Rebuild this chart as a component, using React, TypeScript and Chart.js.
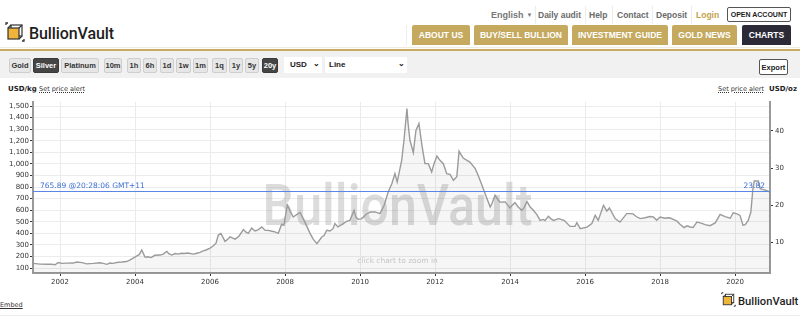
import React, { useEffect, useRef } from "react";
import { Chart, registerables } from "chart.js";

Chart.register(...registerables);

// ---------------- data ----------------
const years: number[] = [
  2001.29, 2001.47, 2001.65, 2001.76, 2001.87, 2001.95, 2002.05, 2002.18, 2002.35, 2002.45,
  2002.59, 2002.71, 2002.89, 2003.07, 2003.15, 2003.25, 2003.33, 2003.41, 2003.55, 2003.65,
  2003.78, 2003.87, 2003.95, 2004.05, 2004.11, 2004.18, 2004.27, 2004.35, 2004.43, 2004.53,
  2004.67, 2004.75, 2004.85, 2004.91, 2004.98, 2005.07, 2005.15, 2005.23, 2005.31, 2005.41,
  2005.55, 2005.65, 2005.73, 2005.82, 2005.91, 2006.0, 2006.09, 2006.16, 2006.22, 2006.29,
  2006.4, 2006.48, 2006.53, 2006.67, 2006.77, 2006.89, 2006.96, 2007.02, 2007.11, 2007.2,
  2007.28, 2007.38, 2007.47, 2007.55, 2007.65, 2007.73, 2007.82, 2007.91, 2007.97, 2008.06,
  2008.14, 2008.22, 2008.3, 2008.4, 2008.53, 2008.67, 2008.75, 2008.85, 2008.98, 2009.04,
  2009.11, 2009.2, 2009.28, 2009.33, 2009.41, 2009.49, 2009.55, 2009.65, 2009.73, 2009.84,
  2009.89, 2009.95, 2010.03, 2010.09, 2010.16, 2010.27, 2010.4, 2010.53, 2010.64, 2010.75,
  2010.85, 2010.93, 2010.99, 2011.11, 2011.17, 2011.25, 2011.28, 2011.33, 2011.42, 2011.49,
  2011.57, 2011.65, 2011.73, 2011.82, 2011.91, 2011.97, 2012.05, 2012.13, 2012.22, 2012.31,
  2012.4, 2012.49, 2012.58, 2012.64, 2012.75, 2012.85, 2012.93, 2013.07, 2013.15, 2013.25,
  2013.36, 2013.47, 2013.52, 2013.6, 2013.68, 2013.73, 2013.87, 2014.0, 2014.05, 2014.13,
  2014.21, 2014.31, 2014.37, 2014.45, 2014.53, 2014.62, 2014.72, 2014.8, 2014.88, 2014.93,
  2015.02, 2015.09, 2015.16, 2015.29, 2015.44, 2015.6, 2015.73, 2015.78, 2015.87, 2016.05,
  2016.18, 2016.27, 2016.35, 2016.49, 2016.58, 2016.65, 2016.8, 2016.93, 2017.11, 2017.2,
  2017.28, 2017.36, 2017.47, 2017.6, 2017.73, 2017.82, 2017.91, 2018.0, 2018.13, 2018.21,
  2018.27, 2018.35, 2018.45, 2018.53, 2018.64, 2018.72, 2018.8, 2018.88, 2018.98, 2019.07,
  2019.2, 2019.33, 2019.47, 2019.6, 2019.73, 2019.87, 2019.95, 2020.05, 2020.13, 2020.21,
  2020.27, 2020.35, 2020.42, 2020.47, 2020.51, 2020.62, 2020.67, 2020.75, 2020.83, 2020.93,
];

const silverUsdPerKg: number[] = [
  140, 134, 132, 134, 128, 148, 140, 142, 143, 152,
  147, 136, 140, 146, 140, 132, 143, 140, 150, 152,
  156, 170, 185, 205, 215, 255, 193, 197, 190, 210,
  212, 220, 243, 222, 212, 225, 220, 228, 225, 230,
  220, 228, 235, 248, 258, 272, 292, 315, 385, 398,
  330, 350, 370, 350, 375, 432, 410, 400, 445, 420,
  430, 455, 425, 425, 418, 412, 400, 478, 470, 645,
  590, 541, 560, 580, 497, 397, 350, 311, 368, 380,
  426, 420, 440, 484, 455, 470, 484, 505, 512, 599,
  540, 521, 525, 540, 565, 584, 585, 570, 640, 757,
  830, 916, 843, 1031, 1200, 1478, 1350, 1204, 1097, 1290,
  1348, 1160, 1002, 1002, 930, 1000, 1068, 1031, 1002, 916,
  910, 858, 890, 1109, 1051, 1030, 1016, 959, 900, 815,
  720, 627, 660, 728, 690, 670, 672, 619, 640, 665,
  630, 599, 620, 675, 630, 599, 560, 512, 520, 510,
  547, 525, 512, 527, 512, 460, 460, 492, 440, 454,
  484, 555, 512, 642, 593, 619, 527, 497, 570, 570,
  568, 545, 527, 535, 545, 542, 512, 540, 530, 535,
  532, 520, 505, 478, 449, 465, 455, 450, 497, 490,
  475, 466, 490, 564, 545, 530, 578, 568, 555, 470,
  475, 512, 584, 772, 852, 852, 786, 777, 770, 757,
];

const xTickYears = [2002, 2004, 2006, 2008, 2010, 2012, 2014, 2016, 2018, 2020];
const kgTicks = [100, 200, 300, 400, 500, 600, 700, 800, 900, 1000, 1100, 1200, 1300, 1400, 1500];
const ozTicks = [10, 20, 30, 40];
const currentKg = 765.89;
const currentOz = 23.82;
const currentTime = "20:28:06 GMT+11";
const OZ_PER_KG = 32.1507;
const xMin = 2001.28;
const xMax = 2020.93;
const kgMin = 57;
const kgMax = 1535;

const navLinks = ["Daily audit", "Help", "Contact", "Deposit"];
const navButtons = ["ABOUT US", "BUY/SELL BULLION", "INVESTMENT GUIDE", "GOLD NEWS", "CHARTS"];
const metalButtons = ["Gold", "Silver", "Platinum"];
const periodButtons = ["10m", "1h", "6h", "1d", "1w", "1m", "1q", "1y", "5y", "20y"];

// ---------------- layout helpers ----------------
const SANS = '"Liberation Sans", Arial, sans-serif';
const TICK_FONT = { family: '"DejaVu Sans", Verdana, sans-serif', size: 7 };

const Logo = ({ size }: { size: number }) => (
  <svg width={size} height={size} viewBox="0 0 20 20">
    <rect x="6" y="3" width="11" height="11" fill="none" stroke="#333" strokeWidth="1.2" />
    <rect x="3" y="6" width="11" height="11" fill="#f0b43a" stroke="#333" strokeWidth="1.2" />
    <line x1="3" y1="6" x2="6" y2="3" stroke="#333" strokeWidth="1.2" />
    <line x1="14" y1="6" x2="17" y2="3" stroke="#333" strokeWidth="1.2" />
    <line x1="14" y1="17" x2="17" y2="14" stroke="#333" strokeWidth="1.2" />
    <path d="M1 3 L1 1 L3 1 M19 17 L19 19 L17 19" fill="none" stroke="#333" strokeWidth="1.3" />
  </svg>
);

const Txt = (p: { x: number; y: number; children: any; style?: any }) => (
  <div
    style={{
      position: "absolute",
      left: p.x,
      top: p.y - 8,
      height: 16,
      display: "flex",
      alignItems: "center",
      whiteSpace: "nowrap",
      ...p.style,
    }}
  >
    {p.children}
  </div>
);

const overlayPlugin = {
  id: "overlay",
  beforeDatasetsDraw(chart: any) {
    const { ctx, chartArea: a } = chart;
    ctx.save();
    ctx.font = '500 58px Roboto, "Liberation Sans", sans-serif';
    const w = ctx.measureText("BullionVault").width;
    const target = 270;
    ctx.translate((a.left + a.right) / 2 - 4, a.top + 123);
    ctx.scale(target / w, 1);
    ctx.fillStyle = "rgba(150,150,150,0.33)";
    ctx.textAlign = "center";
    ctx.textBaseline = "alphabetic";
    ctx.fillText("BullionVault", 0, 0);
    ctx.restore();
  },
  afterDatasetsDraw(chart: any) {
    const { ctx, chartArea: a, scales } = chart;
    const y = Math.round(scales.y.getPixelForValue(currentKg));
    ctx.save();
    ctx.globalAlpha = 1;
    ctx.globalCompositeOperation = "source-over";
    ctx.fillStyle = "rgb(90,135,230)";
    ctx.fillRect(a.left, y, a.right - a.left, 1);
    ctx.fillStyle = "#3d6fd6";
    ctx.font = '7.5px "DejaVu Sans", Verdana, sans-serif';
    ctx.textBaseline = "alphabetic";
    ctx.textAlign = "left";
    ctx.fillText(currentKg.toFixed(2) + " @" + currentTime, a.left + 7, y - 3);
    ctx.textAlign = "right";
    ctx.fillText(currentOz.toFixed(2), a.right - 5, y - 3);
    ctx.fillStyle = "#c4c4c4";
    ctx.textAlign = "center";
    ctx.textBaseline = "middle";
    ctx.font = '7.5px "DejaVu Sans", Verdana, sans-serif';
    ctx.fillText("click chart to zoom in", (a.left + a.right) / 2 - 4, a.bottom - 12);
    ctx.restore();
  },
};

function SilverChart() {
  const ref = useRef<HTMLCanvasElement | null>(null);
  useEffect(() => {
    if (!ref.current) return;
    const points = years.map((x, i) => ({ x, y: silverUsdPerKg[i] }));
    const chart = new Chart(ref.current, {
      type: "line",
      data: {
        datasets: [
          {
            data: points,
            yAxisID: "y",
            borderColor: "#9b9b9b",
            borderWidth: 1.4,
            backgroundColor: "rgba(0,0,0,0.035)",
            fill: "start",
            pointRadius: 0,
            tension: 0,
          },
        ],
      },
      options: {
        animation: false,
        responsive: false,
        maintainAspectRatio: false,
        events: [],
        layout: { padding: { top: 10, left: 0, right: 0, bottom: 0 } },
        plugins: { legend: { display: false }, tooltip: { enabled: false } },
        scales: {
          x: {
            type: "linear",
            min: xMin,
            max: xMax,
            afterBuildTicks: (s: any) => {
              s.ticks = xTickYears.map((v) => ({ value: v }));
            },
            afterFit: (s: any) => {
              s.height = 19;
            },
            ticks: {
              callback: (v: any) => String(v),
              font: TICK_FONT,
              color: "#333",
              padding: 2,
              maxRotation: 0,
              autoSkip: false,
            },
            grid: { color: "#ebebeb", tickColor: "#333", tickLength: 3, tickWidth: 1 },
            border: { color: "#999", width: 2 },
          },
          y: {
            position: "left",
            min: kgMin,
            max: kgMax,
            afterBuildTicks: (s: any) => {
              s.ticks = kgTicks.map((v) => ({ value: v }));
            },
            afterFit: (s: any) => {
              s.width = 33;
            },
            ticks: {
              callback: (v: any) => Number(v).toLocaleString("en-US"),
              font: TICK_FONT,
              color: "#333",
              padding: 1,
              autoSkip: false,
            },
            grid: { color: "#ececec", tickColor: "#333", tickLength: 3, tickWidth: 1 },
            border: { color: "#999", width: 2 },
          },
          y2: {
            position: "right",
            min: kgMin / OZ_PER_KG,
            max: kgMax / OZ_PER_KG,
            afterBuildTicks: (s: any) => {
              s.ticks = ozTicks.map((v) => ({ value: v }));
            },
            afterFit: (s: any) => {
              s.width = 30;
            },
            ticks: {
              callback: (v: any) => String(v),
              font: TICK_FONT,
              color: "#333",
              padding: 2,
              autoSkip: false,
            },
            grid: { drawOnChartArea: false, tickColor: "#333", tickLength: 3, tickWidth: 1 },
            border: { color: "#999", width: 2 },
          },
        },
      } as any,
      plugins: [overlayPlugin],
    });
    return () => chart.destroy();
  }, []);
  return (
    <canvas
      ref={ref}
      width={800}
      height={200}
      style={{ position: "absolute", left: 0, top: 92, width: 800, height: 200, display: "block" }}
    />
  );
}

export default function App() {
  const navBtnPos = [
    [412, 58],
    [474, 94],
    [572, 96],
    [672, 65],
    [742, 49],
  ];
  const linkPos = [538, 589, 617, 656];
  const sepPos = [535, 585, 612, 651.5, 691];
  const metalPos = [
    [9, 22],
    [33, 26],
    [61, 38],
  ];
  const periodPos = [
    [104, 18],
    [127, 14],
    [143, 14],
    [160, 14],
    [176, 15],
    [193, 15],
    [212, 15],
    [229, 14],
    [245, 14],
    [262, 16],
  ];
  const btn = (active: boolean) => ({
    position: "absolute" as const,
    top: 58,
    height: 15,
    boxSizing: "border-box" as const,
    border: active ? "1px solid #3a3a3a" : "1px solid #cfcfcf",
    background: active ? "#454545" : "#e6e6e6",
    color: active ? "#fff" : "#333",
    borderRadius: 2,
    display: "flex",
    alignItems: "center",
    justifyContent: "center",
    font: `bold 7.5px ${SANS}`,
  });
  return (
    <div
      style={{
        position: "absolute",
        left: 0,
        top: 0,
        width: 800,
        height: 316,
        background: "#fff",
        overflow: "hidden",
        fontFamily: SANS,
      }}
    >
      {/* header logo */}
      <div style={{ position: "absolute", left: 5, top: 22 }}>
        <Logo size={20} />
      </div>
      <Txt x={29} y={33} style={{ font: "500 16px Roboto, sans-serif", color: "#1e1e1e", letterSpacing: -0.1 }}>
        BullionVault
      </Txt>

      {/* top links */}
      <Txt x={491} y={15} style={{ font: `bold 9px ${SANS}`, color: "#777" }}>
        English <span style={{ fontSize: 6, marginLeft: 3 }}>▼</span>
      </Txt>
      {navLinks.map((l, i) => (
        <Txt key={l} x={linkPos[i]} y={15} style={{ font: `bold 8.5px ${SANS}`, color: "#6a6a6a" }}>
          {l}
        </Txt>
      ))}
      <Txt x={696} y={15} style={{ font: `bold 8.5px ${SANS}`, color: "#c4a24e" }}>
        Login
      </Txt>
      {sepPos.map((x) => (
        <div key={x} style={{ position: "absolute", left: x, top: 6, width: 1, height: 18, background: "#ececec" }} />
      ))}
      <div
        style={{
          position: "absolute",
          left: 727,
          top: 7,
          width: 64,
          height: 15,
          boxSizing: "border-box",
          border: "1.5px solid #555",
          borderRadius: 2,
          display: "flex",
          alignItems: "center",
          justifyContent: "center",
          font: `bold 7px ${SANS}`,
          color: "#222",
        }}
      >
        OPEN ACCOUNT
      </div>
      <div style={{ position: "absolute", left: 406, top: 25, width: 1, height: 20, background: "#eee" }} />
      {navButtons.map((b, i) => (
        <div
          key={b}
          style={{
            position: "absolute",
            left: navBtnPos[i][0],
            top: 25,
            width: navBtnPos[i][1],
            height: 20,
            background: b === "CHARTS" ? "#2c2a37" : "#c5a95f",
            borderRadius: "2px 2px 0 0",
            display: "flex",
            alignItems: "center",
            justifyContent: "center",
            font: `bold 8.5px ${SANS}`,
            color: "#fff",
          }}
        >
          {b}
        </div>
      ))}
      <div style={{ position: "absolute", left: 0, top: 47, width: 800, height: 1, background: "#efece4" }} />
      <div
        style={{
          position: "absolute",
          left: 0,
          top: 49,
          width: 800,
          height: 2,
          background: "#c9aa5e",
          boxShadow: "0 1px 2px rgba(0,0,0,0.18)",
        }}
      />

      {/* toolbar */}
      <div style={{ position: "absolute", left: 0, top: 51, width: 800, height: 27, background: "#f1f1f1" }} />
      {metalButtons.map((m, i) => (
        <div key={m} style={{ ...btn(m === "Silver"), left: metalPos[i][0], width: metalPos[i][1] }}>
          {m}
        </div>
      ))}
      {periodButtons.map((p, i) => (
        <div key={p} style={{ ...btn(p === "20y"), left: periodPos[i][0], width: periodPos[i][1] }}>
          {p}
        </div>
      ))}
      <div
        style={{
          position: "absolute",
          left: 284,
          top: 57,
          width: 38,
          height: 16,
          background: "#fff",
          font: `bold 8px ${SANS}`,
          color: "#222",
        }}
      >
        <span style={{ position: "absolute", left: 6, top: 3 }}>USD</span>
        <span style={{ position: "absolute", left: 29, top: 2, fontSize: 8 }}>⌄</span>
      </div>
      <div
        style={{
          position: "absolute",
          left: 325,
          top: 57,
          width: 82,
          height: 16,
          background: "#fff",
          font: `bold 8px ${SANS}`,
          color: "#222",
        }}
      >
        <span style={{ position: "absolute", left: 4, top: 3 }}>Line</span>
        <span style={{ position: "absolute", left: 73, top: 2, fontSize: 8 }}>⌄</span>
      </div>
      <div
        style={{
          position: "absolute",
          left: 759,
          top: 59,
          width: 29,
          height: 16,
          boxSizing: "border-box",
          border: "1px solid #555",
          borderRadius: 2,
          background: "#fff",
          display: "flex",
          alignItems: "center",
          justifyContent: "center",
          font: `bold 7.5px ${SANS}`,
          color: "#222",
        }}
      >
        Export
      </div>

      {/* axis captions */}
      <Txt x={8} y={89} style={{ font: 'bold 7px "DejaVu Sans", Verdana, sans-serif', color: "#222" }}>
        USD/kg
      </Txt>
      <Txt
        x={39}
        y={89}
        style={{ font: '6.5px "DejaVu Sans", Verdana, sans-serif', color: "#333", textDecoration: "underline dotted" }}
      >
        Set price alert
      </Txt>
      <Txt
        x={718}
        y={89}
        style={{ font: '6.5px "DejaVu Sans", Verdana, sans-serif', color: "#333", textDecoration: "underline dotted" }}
      >
        Set price alert
      </Txt>
      <Txt x={769} y={89} style={{ font: 'bold 7px "DejaVu Sans", Verdana, sans-serif', color: "#222" }}>
        USD/oz
      </Txt>

      <SilverChart />

      {/* footer */}
      <Txt x={0} y={305} style={{ font: '6.5px "DejaVu Sans", Verdana, sans-serif', color: "#333", textDecoration: "underline" }}>
        Embed
      </Txt>
      <div style={{ position: "absolute", left: 721, top: 292 }}>
        <Logo size={15} />
      </div>
      <Txt x={738} y={301} style={{ font: "500 11.2px Roboto, sans-serif", color: "#1e1e1e" }}>
        BullionVault
      </Txt>
      <div style={{ position: "absolute", left: 0, top: 315, width: 800, height: 1, background: "#ececec" }} />
    </div>
  );
}
